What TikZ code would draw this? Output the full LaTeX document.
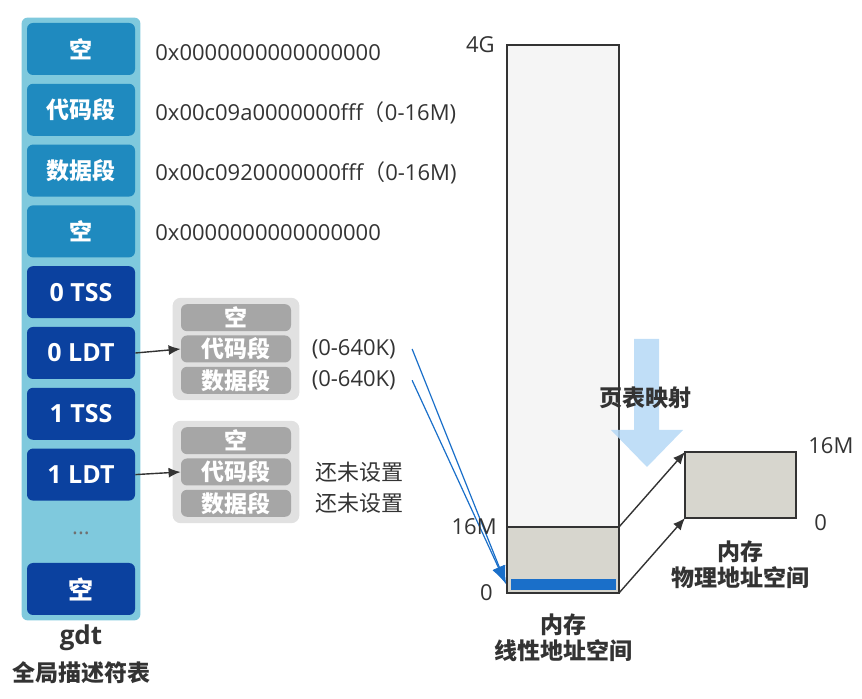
\documentclass[tikz,border=0pt]{standalone}
\usepackage{fontspec}
\setmainfont{Open Sans}
\newfontfamily\cjk{Noto Sans CJK SC}
\usetikzlibrary{arrows.meta,calc,positioning,fit,backgrounds}
\definecolor{panelblue}{HTML}{7FC9DD}
\definecolor{tealbox}{HTML}{1F8ABF}
\definecolor{navybox}{HTML}{0B419F}
\definecolor{ldtpanel}{HTML}{E1E1E1}
\definecolor{ldtgray}{HTML}{A6A6A6}
\definecolor{ink}{HTML}{333333}
\definecolor{memgray}{HTML}{D7D6CE}
\definecolor{memlight}{HTML}{F5F5F5}
\definecolor{linkblue}{HTML}{1A6FC9}
\definecolor{pageblue}{HTML}{B5D8F6}

\begin{document}
\begin{tikzpicture}[
x=0.5pt,y=-0.5pt,
node distance=4pt and 4pt,
gdtbox/.style={rounded corners=3pt,text=white,font=\bfseries\fontsize{11.5}{13}\selectfont,minimum width=54pt,minimum height=26pt,inner sep=0pt},
segbox/.style={gdtbox,fill=tealbox},
taskbox/.style={gdtbox,fill=navybox,font=\bfseries\fontsize{12.5}{14}\selectfont},
ldtbox/.style={rounded corners=3pt,fill=ldtgray,text=white,font=\bfseries\cjk\fontsize{11.5}{13}\selectfont,minimum width=55pt,minimum height=13.5pt,inner sep=0pt},
note/.style={text=ink,font=\fontsize{11}{13}\selectfont,inner sep=0pt},
title/.style={text=ink,font=\bfseries\cjk\fontsize{11.5}{13}\selectfont,align=center,inner sep=0pt},
memblock/.style={draw=ink,line width=0.7pt,minimum width=56pt,inner sep=0pt,outer sep=0pt},
arr/.style={-{Latex[length=6pt,width=5pt]},draw=ink,line width=0.7pt},
bluearr/.style={-{Latex[length=9pt,width=6.5pt]},draw=linkblue,line width=0.6pt}
]
\useasboundingbox (0,0) rectangle (862,699);
% gdt column
\node[segbox] (g0) at (81,49) {\cjk 空};
\node[segbox,below=of g0] (g1) {\cjk 代码段};
\node[segbox,below=of g1] (g2) {\cjk 数据段};
\node[segbox,below=of g2] (g3) {\cjk 空};
\node[taskbox,below=of g3] (g4) {0 TSS};
\node[taskbox,below=of g4] (g5) {0 LDT};
\node[taskbox,below=of g5] (g6) {1 TSS};
\node[taskbox,below=of g6] (g7) {1 LDT};
\node[note,text=ink!70] (gdots) at (81,533) {...};
\node[taskbox] (g8) at (81,589) {\cjk 空};
\begin{scope}[on background layer]
\node[fit=(g0)(g8),inner sep=2.5pt,rounded corners=3pt,fill=panelblue] (gdt) {};
\end{scope}
\node[title,font=\bfseries\fontsize{13}{15}\selectfont] (gdtname) at (81,638) {gdt};
\node[title] (gdtcn) at (81,673) {全局描述符表};
% descriptor values
\node[note,anchor=west] (h0) at (155,53) {0x0000000000000000};
\node[note,anchor=west] (h1) at (155,113) {0x00c09a0000000fff{\cjk （}0-16M)};
\node[note,anchor=west] (h2) at (155,173) {0x00c0920000000fff{\cjk （}0-16M)};
\node[note,anchor=west] (h3) at (155,233) {0x0000000000000000};
% ldt tables
\node[ldtbox] (la1) at (236,349) {代码段};
\node[ldtbox,above=1.75pt of la1] (la0) {空};
\node[ldtbox,below=1.75pt of la1] (la2) {数据段};
\node[ldtbox] (lb1) at (236,472) {代码段};
\node[ldtbox,above=1.75pt of lb1] (lb0) {空};
\node[ldtbox,below=1.75pt of lb1] (lb2) {数据段};
\begin{scope}[on background layer]
\node[fit=(la0)(la2),inner xsep=4pt,inner ysep=3pt,rounded corners=4pt,fill=ldtpanel] (ldt0) {};
\node[fit=(lb0)(lb2),inner xsep=4pt,inner ysep=3pt,rounded corners=4pt,fill=ldtpanel] (ldt1) {};
\end{scope}
\draw[arr] (g5.east) -- (la1.west);
\draw[arr] (g7.east) -- (lb1.west);
\node[note,right=10pt of la1] (ra1) {(0-640K)};
\node[note,right=10pt of la2] (ra2) {(0-640K)};
\node[note,right=12pt of lb1] (rb1) {\cjk 还未设置};
\node[note,right=12pt of lb2] (rb2) {\cjk 还未设置};
% linear address space
\node[memblock,fill=memlight,minimum height=241pt,anchor=north west] (linhi) at (507,45) {};
\node[memblock,fill=memgray,minimum height=33pt,below=0pt of linhi] (linlo) {};
\node[fill=linkblue,minimum width=52.5pt,minimum height=5.5pt,inner sep=0pt,above=1.5pt of linlo.south] (lowmem) {};
\coordinate (lintip) at (506,584);
\draw[bluearr] ($(ra1.east)+(8pt,0)$) -- (lintip);
\draw[bluearr] ($(ra2.east)+(8pt,0)$) -- (lintip);
\node[note,left=6pt of linhi.north west] (l4g) {4G};
\node[note,left=5pt of linlo.north west] (l16m) {16M};
\node[note,left=7pt of linlo.south west] (l0) {0};
\node[title,below=10pt of linlo] (lincap) {内存\\线性地址空间};
% physical address space
\node[memblock,fill=memgray,minimum width=55.5pt,minimum height=33pt] (phys) at (740.5,485) {};
\node[note,right=6pt of phys.north east,yshift=3pt] (p16m) {16M};
\node[note,right=9pt of phys.south east,yshift=-2.5pt] (p0) {0};
\node[title,below=11pt of phys] (physcap) {内存\\物理地址空间};
\draw[arr] (linlo.north east) -- (phys.north west);
\draw[arr] (linlo.south east) -- (phys.south west);
% paging arrow
\fill[pageblue,opacity=0.85] (634,339) -- (659,339) -- (659,430) -- (683,430) -- (647,467) -- (611,430) -- (634,430) -- cycle;
\node[title] (pagemap) at (645,398) {页表映射};
\end{tikzpicture}
\end{document}
